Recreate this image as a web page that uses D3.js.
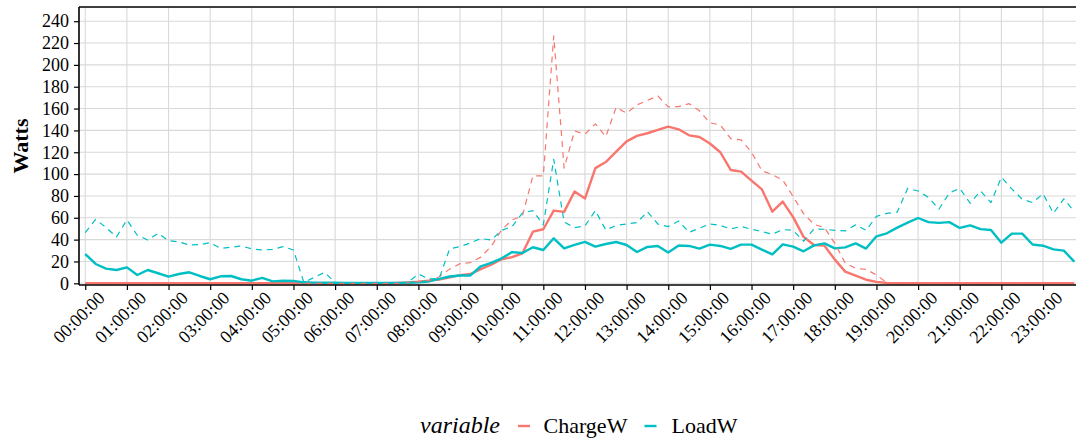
<!DOCTYPE html>
<html>
<head>
<meta charset="utf-8">
<script src="https://cdn.jsdelivr.net/npm/d3@7"></script>
<style>
  body { margin: 0; background: #ffffff; }
  svg { display: block; }
  svg text { font-family: "Liberation Serif", "Times New Roman", serif; }
</style>
</head>
<body>
<svg id="chart" width="1076" height="439"></svg>
<script>
// 15-minute time slots over one day
const times = d3.range(96).map(i => {
  const h = Math.floor(i / 4), m = (i % 4) * 15;
  return String(h).padStart(2, "0") + ":" + String(m).padStart(2, "0") + ":00";
});

// Hourly tick labels
const hourLabels = [
  "00:00:00","01:00:00","02:00:00","03:00:00","04:00:00","05:00:00",
  "06:00:00","07:00:00","08:00:00","09:00:00","10:00:00","11:00:00",
  "12:00:00","13:00:00","14:00:00","15:00:00","16:00:00","17:00:00",
  "18:00:00","19:00:00","20:00:00","21:00:00","22:00:00","23:00:00"
];

const yTicks = [0, 20, 40, 60, 80, 100, 120, 140, 160, 180, 200, 220, 240];

// ChargeW, average per slot (solid)
const chargeMean = [
  0,0,0,0,0,0,0,0,0,0,0,0,0,0,0,0,0,0,0,0,0,0,0,0,
  0,0,0,0,0,0,0.3,0.8,1.5,2.5,3.5,5.5,7.5,8.5,13,17,22,24,27.5,47.3,49.5,66.6,65.4,84,
  77.6,105.5,111,120.5,130,135,137.4,140.5,143.5,141,135.5,134,128,120,103.8,102.3,94,86,65.6,74.8,60.6,42.5,35.1,34.5,
  21.7,10.7,7,3.3,1.3,0.3,0,0,0,0,0,0,0,0,0,0,0,0,0,0,0,0,0,0
];

// ChargeW, peak per slot (dashed)
const chargeMax = [
  0,0,0,0,0,0,0,0,0,0,0,0,0,0,0,0,0,0,0,0,0,0,0,0,
  0,0,0,0,0,0,0,0.5,1.5,2.5,6,13,18,19,24,34,49,58,62,98.3,98.3,226.5,105.5,139.5,
  136.5,146,134.3,161.2,155.7,163.4,167.5,171.6,161.5,161.8,164.5,158,147,145,132.5,131.3,120,103,99.5,94.6,79.4,63.8,54,51,
  36.6,18.5,13.7,12.8,7.6,0.6,0,0,0,0,0,0,0,0,0,0,0,0,0,0,0,0,0,0
];

// LoadW, average per slot (solid)
const loadMean = [
  26.8,17.7,13.4,12.2,14.6,7.6,12.2,9.2,6.1,8.5,10.1,6.7,3.7,6.4,6.7,3.7,2.4,4.9,1.8,2.4,2.1,0.9,0.6,0.5,
  0.5,0.4,0.4,0.4,0.4,0.4,0.4,0.5,0.9,1.7,4,6.2,7.2,7.2,15.6,18.7,22.9,28.6,27.8,33,30.5,41.2,31.9,35.2,
  37.9,33.6,36,37.8,35.1,28.7,33.3,34.2,28.3,34.6,34.2,31.8,35.4,34.2,31.5,35.4,35.4,30.8,26.5,35.7,33.6,29.3,34.7,36.6,
  32,32.9,36.6,31.8,43,45.8,51,55.6,59.8,56,55.3,56,50.7,53.1,49.6,48.8,37.2,45.5,45.5,35.5,34.4,31.1,29.9,19.8
];

// LoadW, peak per slot (dashed)
const loadMax = [
  46.4,58.5,51,42.5,58,44,39.7,45.8,39,37.9,35,35.4,37.2,32,33,34.2,31.5,30.5,31,33.6,30.5,0.8,5.5,10,
  0.6,0.5,0.5,0.5,0.5,0.5,0.5,1,8.5,4,4.6,31.5,33.6,37,41,39.7,48.5,52,64.5,66.5,53.5,113.6,56,51,
  52.5,66.6,48.8,53,54.3,55.6,65.6,54.3,51.9,57.1,46.6,50.5,54.3,53,49.8,52,49.5,47.3,45,49.2,48.5,38.5,49.8,49.5,
  48.5,48,53.5,48.5,61.3,64,65.2,87,84.5,78.6,67.8,82.7,87,73.3,84.5,73.9,97.1,86.5,77,73.9,82,64.1,77.4,65.6
];

const colCharge = "#F8766D";
const colLoad = "#00BFC4";
const textCol = "#000000";
const serif = '"Liberation Serif", "Times New Roman", serif';

const svg = d3.select("#chart");
const panel = { left: 79, right: 1080.5, top: 7, bottom: 285 };

const x = d3.scalePoint()
  .domain(times)
  .range([panel.left, panel.right])
  .padding(0.6);

const y = d3.scaleLinear()
  .domain([-1.55, 253])
  .range([panel.bottom, panel.top]);

svg.append("defs").append("clipPath").attr("id", "panel-clip")
  .append("rect")
  .attr("x", panel.left).attr("y", panel.top)
  .attr("width", panel.right - panel.left)
  .attr("height", panel.bottom - panel.top);

// Grid
const grid = svg.append("g").attr("clip-path", "url(#panel-clip)");
grid.selectAll("line.h").data(yTicks).join("line")
  .attr("x1", panel.left).attr("x2", panel.right)
  .attr("y1", d => y(d)).attr("y2", d => y(d))
  .attr("stroke", "#d9d9d9").attr("stroke-width", 1.1);
grid.selectAll("line.v").data(hourLabels).join("line")
  .attr("x1", d => x(d)).attr("x2", d => x(d))
  .attr("y1", panel.top).attr("y2", panel.bottom)
  .attr("stroke", "#d9d9d9").attr("stroke-width", 1.1);

// Series
const line = d3.line()
  .x((d, i) => x(times[i]))
  .y(d => y(d));

const plot = svg.append("g").attr("clip-path", "url(#panel-clip)");
const series = [
  { values: chargeMean, color: colCharge, dash: null, width: 2.4 },
  { values: loadMean, color: colLoad, dash: null, width: 2.4 },
  { values: chargeMax, color: colCharge, dash: "6,5", width: 1.2 },
  { values: loadMax, color: colLoad, dash: "6,5", width: 1.2 }
];
plot.selectAll("path.series").data(series).join("path")
  .attr("class", "series")
  .attr("d", d => line(d.values))
  .attr("fill", "none")
  .attr("stroke", d => d.color)
  .attr("stroke-width", d => d.width)
  .attr("stroke-dasharray", d => d.dash)
  .attr("stroke-linejoin", "round");

// Panel border (top edge) and axes
svg.append("line")
  .attr("x1", panel.left).attr("x2", panel.right)
  .attr("y1", panel.top).attr("y2", panel.top)
  .attr("stroke", "#000").attr("stroke-width", 1.5);

const yAxis = svg.append("g")
  .attr("transform", `translate(${panel.left},0)`)
  .call(d3.axisLeft(y).tickValues(yTicks).tickSize(5).tickPadding(5).tickSizeOuter(0));
yAxis.select(".domain").remove();
yAxis.selectAll(".tick line").attr("stroke", "#000").attr("stroke-width", 1.2);
yAxis.selectAll(".tick text")
  .style("font-family", serif)
  .style("font-size", "18px")
  .attr("fill", textCol);

const xAxis = svg.append("g")
  .attr("transform", `translate(0,${panel.bottom})`)
  .call(d3.axisBottom(x).tickValues(hourLabels).tickSize(5).tickSizeOuter(0));
xAxis.select(".domain").remove();
xAxis.selectAll(".tick line").attr("stroke", "#000").attr("stroke-width", 1.2);
xAxis.selectAll(".tick text")
  .style("font-family", serif)
  .style("font-size", "18px")
  .attr("fill", textCol)
  .attr("text-anchor", "end")
  .attr("dy", null)
  .attr("y", 0)
  .attr("dominant-baseline", "hanging")
  .attr("transform", "translate(11,5) rotate(-45)");

svg.append("line")
  .attr("x1", panel.left).attr("x2", panel.left)
  .attr("y1", panel.top).attr("y2", panel.bottom)
  .attr("stroke", "#000").attr("stroke-width", 1.6);
svg.append("line")
  .attr("x1", panel.left).attr("x2", panel.right)
  .attr("y1", panel.bottom).attr("y2", panel.bottom)
  .attr("stroke", "#000").attr("stroke-width", 1.6);

// Y axis title
svg.append("text")
  .attr("transform", `translate(28,${(panel.top + panel.bottom) / 2}) rotate(-90)`)
  .attr("text-anchor", "middle")
  .style("font-family", serif)
  .style("font-weight", "bold").style("font-size", "22px")
  .attr("fill", "#000")
  .text("Watts");

// Legend
const legend = svg.append("g");
legend.append("text")
  .attr("x", 420).attr("y", 433)
  .style("font-family", serif)
  .style("font-style", "italic").style("font-size", "24px")
  .attr("fill", textCol)
  .text("variable");
const keys = [
  { label: "ChargeW", color: colCharge, kx: 518, tx: 543.5 },
  { label: "LoadW", color: colLoad, kx: 644.5, tx: 671.5 }
];
keys.forEach(k => {
  legend.append("line")
    .attr("x1", k.kx).attr("x2", k.kx + 12)
    .attr("y1", 426).attr("y2", 426)
    .attr("stroke", k.color).attr("stroke-width", 2.4);
  legend.append("text")
    .attr("x", k.tx).attr("y", 432.5)
    .style("font-family", serif)
    .style("font-size", "22px")
    .attr("fill", textCol)
    .text(k.label);
});
</script>
</body>
</html>
